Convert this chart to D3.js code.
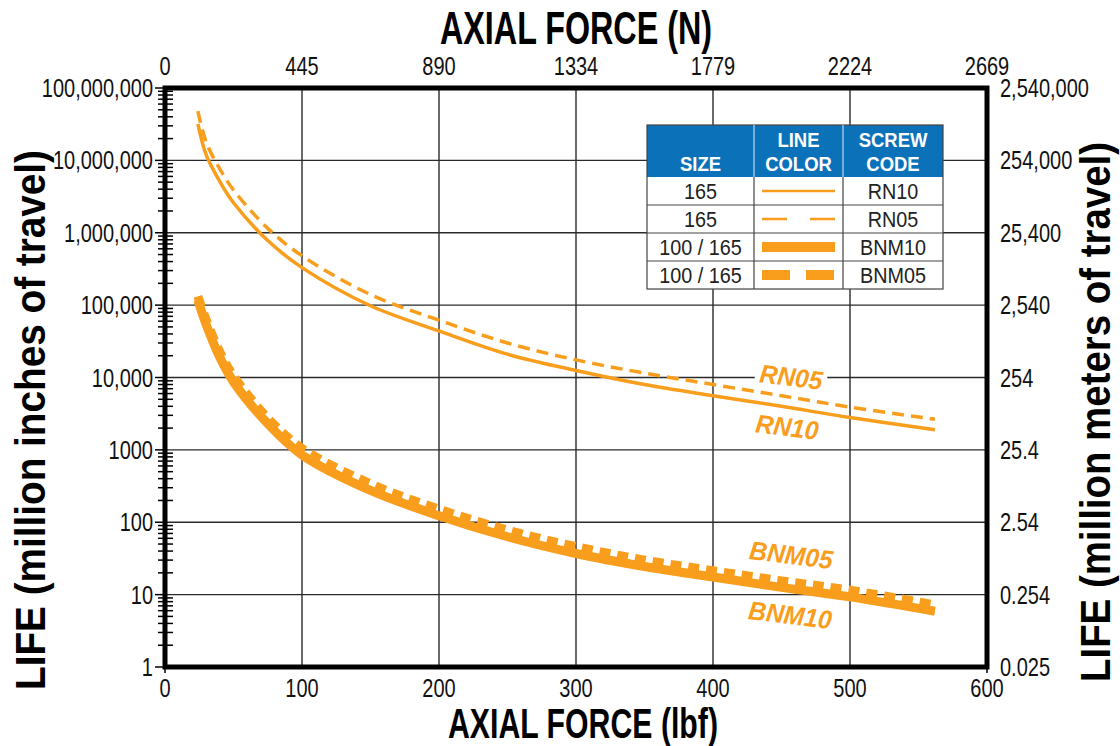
<!DOCTYPE html>
<html><head><meta charset="utf-8">
<script src="https://cdn.jsdelivr.net/npm/d3@7"></script>
<style>
html,body{margin:0;padding:0;background:#fff;}
svg{display:block;}
text{font-family:"Liberation Sans",Arial,"Noto Sans",sans-serif;}
</style></head>
<body>
<svg id="chart" width="1120" height="746"></svg>
<script>
// ---- data ----
const forceLbf = [24, 30, 40, 50, 75, 100, 150, 200, 250, 300, 350, 400, 450, 500, 562];
const rn10  = [32000000, 12000000, 5100000, 2600000, 780000, 330000, 98000, 44000, 21000, 12500, 8000, 5600, 4000, 2800, 1900];
const rn05  = [48000000, 18000000, 7600000, 3900000, 1150000, 480000, 140000, 62000, 30000, 17500, 11500, 8000, 5600, 3900, 2650];
const bnm10 = [117000, 54000, 19000, 8700, 2300, 850, 275, 123, 63, 37, 24.5, 17.5, 12.6, 9.3, 5.9];
const bnm05 = [132000, 63000, 22500, 10500, 2750, 1050, 340, 151, 78, 46, 30, 21.4, 15.5, 11.5, 7.2];

const xTicksLbf = [0, 100, 200, 300, 400, 500, 600];
const xTicksN = ["0", "445", "890", "1334", "1779", "2224", "2669"];
const yTicks = [1, 10, 100, 1000, 10000, 100000, 1000000, 10000000, 100000000];
const yLabelsLeft = ["1", "10", "100", "1000", "10,000", "100,000", "1,000,000", "10,000,000", "100,000,000"];
const yLabelsRight = ["0.025", "0.254", "2.54", "25.4", "254", "2,540", "25,400", "254,000", "2,540,000"];

const legendSize = ["165", "165", "100 / 165", "100 / 165"];
const legendCode = ["RN10", "RN05", "BNM10", "BNM05"];

// ---- setup ----
const ORANGE = "#f99d1c";
const SX = 0.8; // horizontal condensing of the type
const svg = d3.select("#chart");
const L = 165, R = 987, T = 88, B = 667;
const x = d3.scaleLinear().domain([0, 600]).range([L, R]);
const y = d3.scaleLog().domain([1, 1e8]).range([B, T]);

function txt(parent, px, py, str, size, anchor, sx) {
  return parent.append("text")
    .attr("transform", `translate(${px},${py}) scale(${sx},1)`)
    .attr("font-size", size).attr("text-anchor", anchor).text(str);
}

// grid
const grid = svg.append("g");
grid.selectAll("line.v").data(xTicksLbf.slice(1, -1)).join("line")
  .attr("x1", d => x(d)).attr("x2", d => x(d)).attr("y1", T).attr("y2", B)
  .attr("stroke", "#2a2a2a").attr("stroke-width", 1.4);
grid.selectAll("line.h").data(yTicks.slice(1, -1)).join("line")
  .attr("x1", L).attr("x2", R).attr("y1", d => y(d)).attr("y2", d => y(d))
  .attr("stroke", "#2a2a2a").attr("stroke-width", 1.4);

// legend table
const lg = svg.append("g");
const cols = [647, 754, 843, 943];
const hTop = 125, hBot = 177, rowH = 28;
lg.append("rect").attr("x", cols[0]).attr("y", hTop).attr("width", cols[3] - cols[0]).attr("height", hBot - hTop)
  .attr("fill", "#0b72b9");
lg.append("rect").attr("x", cols[0]).attr("y", hBot).attr("width", cols[3] - cols[0]).attr("height", rowH * 4)
  .attr("fill", "#fff");
const hdr = lg.append("g").attr("fill", "#fff").attr("font-weight", "bold");
txt(hdr, (cols[0] + cols[1]) / 2, 171, "SIZE", 21, "middle", 0.88);
txt(hdr, (cols[1] + cols[2]) / 2, 147, "LINE", 21, "middle", 0.88);
txt(hdr, (cols[1] + cols[2]) / 2, 171, "COLOR", 21, "middle", 0.88);
txt(hdr, (cols[2] + cols[3]) / 2, 147, "SCREW", 21, "middle", 0.88);
txt(hdr, (cols[2] + cols[3]) / 2, 171, "CODE", 21, "middle", 0.88);
lg.append("rect").attr("x", cols[0]).attr("y", hTop).attr("width", cols[3] - cols[0]).attr("height", hBot - hTop + rowH * 4)
  .attr("fill", "none").attr("stroke", "#444").attr("stroke-width", 1.2);
[1, 2].forEach(i => {
  lg.append("line").attr("x1", cols[i]).attr("x2", cols[i]).attr("y1", hTop).attr("y2", hBot)
    .attr("stroke", "#9cc3e4").attr("stroke-width", 1.5);
  lg.append("line").attr("x1", cols[i]).attr("x2", cols[i]).attr("y1", hBot).attr("y2", hBot + rowH * 4)
    .attr("stroke", "#444").attr("stroke-width", 1.2);
});
[1, 2, 3].forEach(i => {
  lg.append("line").attr("x1", cols[0]).attr("x2", cols[3]).attr("y1", hBot + rowH * i).attr("y2", hBot + rowH * i)
    .attr("stroke", "#444").attr("stroke-width", 1.2);
});
const legendStyles = [
  {w: 2.5, dash: null}, {w: 2.5, dash: "25,23"}, {w: 10, dash: null}, {w: 10, dash: "28,16"}
];
const lgt = lg.append("g").attr("fill", "#222");
legendSize.forEach((s, i) => {
  const cy = hBot + rowH * i + rowH / 2;
  txt(lgt, (cols[0] + cols[1]) / 2, cy + 8, s, 22, "middle", 0.9);
  txt(lgt, (cols[2] + cols[3]) / 2, cy + 8, legendCode[i], 22, "middle", 0.9);
  lg.append("line").attr("x1", 762).attr("x2", 835).attr("y1", cy).attr("y2", cy)
    .attr("stroke", ORANGE).attr("stroke-width", legendStyles[i].w)
    .attr("stroke-dasharray", legendStyles[i].dash);
});

// curves
const line = d3.line().x(d => x(d[0])).y(d => y(d[1])).curve(d3.curveCatmullRom.alpha(0.5));
const zip = vals => forceLbf.map((f, i) => [f, vals[i]]);
const curves = svg.append("g").attr("fill", "none").attr("stroke", ORANGE);
curves.append("path").attr("d", line(zip(bnm10))).attr("stroke-width", 9);
curves.append("path").attr("d", line(zip(bnm05))).attr("stroke-width", 9).attr("stroke-dasharray", "11,7");
curves.append("path").attr("d", line(zip(rn10))).attr("stroke-width", 3.5);
curves.append("path").attr("d", line(zip(rn05))).attr("stroke-width", 3.5).attr("stroke-dasharray", "12,7");

// curve labels
const labs = [
  {t: "RN05", x: 790, y: 386, bg: true},
  {t: "RN10", x: 786, y: 436, bg: false},
  {t: "BNM05", x: 790, y: 564, bg: false},
  {t: "BNM10", x: 789, y: 624, bg: false}
];
const lab = svg.append("g");
labs.forEach(l => {
  const g = lab.append("g").attr("transform", `translate(${l.x},${l.y}) rotate(7)`);
  if (l.bg) g.append("rect").attr("x", -36).attr("y", -22).attr("width", 72).attr("height", 26).attr("fill", "#fff");
  g.append("text").attr("text-anchor", "middle").attr("font-size", 26).attr("font-weight", "bold")
    .attr("font-style", "italic").attr("fill", ORANGE).attr("transform", "scale(0.95,1)").text(l.t);
});

// frame
svg.append("rect").attr("x", L).attr("y", T).attr("width", R - L).attr("height", B - T)
  .attr("fill", "none").attr("stroke", "#000").attr("stroke-width", 5);

// left axis ticks
const ax = svg.append("g");
ax.selectAll("line.maj").data(yTicks).join("line")
  .attr("x1", L - 10).attr("x2", L).attr("y1", d => y(d)).attr("y2", d => y(d))
  .attr("stroke", "#000").attr("stroke-width", 1.5);
const minor = [];
yTicks.slice(0, -1).forEach(d => { for (let k = 2; k <= 9; k++) minor.push(d * k); });
ax.selectAll("line.min").data(minor).join("line")
  .attr("x1", L - 7).attr("x2", L + 8).attr("y1", d => y(d)).attr("y2", d => y(d))
  .attr("stroke", "#000").attr("stroke-width", 1.5);
ax.selectAll("line.bt").data([0, 600]).join("line")
  .attr("x1", d => x(d)).attr("x2", d => x(d)).attr("y1", B).attr("y2", B + 6)
  .attr("stroke", "#000").attr("stroke-width", 1.5);

// tick labels
const tl = svg.append("g").attr("font-size", 25).attr("fill", "#111");
tl.selectAll("text.l").data(yTicks).join("text")
  .attr("transform", d => `translate(${L - 12},${y(d) + 9}) scale(${SX},1)`)
  .attr("text-anchor", "end").text((d, i) => yLabelsLeft[i]);
tl.selectAll("text.r").data(yTicks).join("text")
  .attr("transform", d => `translate(1000,${y(d) + 9}) scale(${SX},1)`)
  .attr("text-anchor", "start").text((d, i) => yLabelsRight[i]);
tl.selectAll("text.b").data(xTicksLbf).join("text")
  .attr("transform", d => `translate(${x(d)},697) scale(${SX},1)`)
  .attr("text-anchor", "middle").text(d => d);
tl.selectAll("text.t").data(xTicksLbf).join("text")
  .attr("transform", d => `translate(${x(d)},75) scale(${SX},1)`)
  .attr("text-anchor", "middle").text((d, i) => xTicksN[i]);

// axis titles
const tt = svg.append("g").attr("font-weight", "bold").attr("fill", "#000");
tt.append("text").attr("x", 576).attr("y", 44).attr("text-anchor", "middle").attr("font-size", 46)
  .attr("textLength", 272).attr("lengthAdjust", "spacingAndGlyphs").text("AXIAL FORCE (N)");
tt.append("text").attr("x", 583).attr("y", 738).attr("text-anchor", "middle").attr("font-size", 43)
  .attr("textLength", 270).attr("lengthAdjust", "spacingAndGlyphs").text("AXIAL FORCE (lbf)");
tt.append("text").attr("transform", "translate(45,420) rotate(-90)").attr("text-anchor", "middle")
  .attr("font-size", 42).attr("textLength", 540).attr("lengthAdjust", "spacingAndGlyphs")
  .text("LIFE (million inches of travel)");
tt.append("text").attr("transform", "translate(1110,412) rotate(-90)").attr("text-anchor", "middle")
  .attr("font-size", 42).attr("textLength", 540).attr("lengthAdjust", "spacingAndGlyphs")
  .text("LIFE (million meters of travel)");
</script>
</body></html>
